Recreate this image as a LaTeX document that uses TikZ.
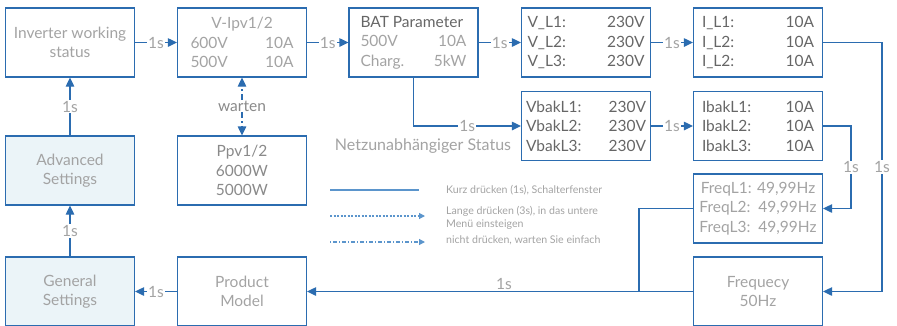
\documentclass[tikz,border=0pt]{standalone}
\usepackage{fontspec}
\setmainfont{Lato}
\usetikzlibrary{arrows.meta}
\definecolor{bl}{HTML}{2B6CB0}
\definecolor{bll}{HTML}{5B95CC}
\definecolor{lt}{HTML}{A3A3A3}
\definecolor{md}{HTML}{8A8A8A}
\definecolor{dk}{HTML}{666666}
\definecolor{fillb}{HTML}{EBF4F8}
\newcommand{\lrrow}[3]{\makebox[#1]{#2\hfill #3}}
\begin{document}
\begin{tikzpicture}[x=1pt,y=-1pt,
 box/.style={draw=bl,line width=1.2pt,minimum width=129pt,minimum height=69pt,inner sep=0pt,align=center,font=\fontsize{15.5}{19.5}\selectfont,text=lt},
 sbox/.style={box,fill=fillb},
 conn/.style={draw=bl,line width=1.2pt,-{Triangle[length=9pt,width=8.5pt]}},
 ln/.style={draw=bl,line width=1.2pt},
 lab/.style={fill=white,inner sep=1pt,text=lt,font=\fontsize{15.5}{18}\selectfont},
 leg/.style={text=lt,font=\fontsize{10.6}{13}\selectfont,anchor=west,align=left,inner sep=0pt},
 waitline/.style={dash pattern=on 6pt off 3pt on 1.5pt off 3pt},
 legtip/.style={-{Triangle[length=6pt,width=6pt]}}]
\useasboundingbox (0,0) rectangle (897,325);

% top row
\node[box] (inv) at (70,42.5) {Inverter working\\status};
\node[box] (vipv) at (242,42.5) {V-Ipv1/2\\\lrrow{103pt}{600V}{10A}\\\lrrow{103pt}{500V}{10A}};
\node[box] (bat) at (413.5,42.5) {\lrrow{106pt}{\color{dk}BAT Parameter}{}\\\lrrow{106pt}{500V}{10A}\\\lrrow{106pt}{Charg.}{5kW}};
\node[box,text=dk] (vl) at (586,42.5) {\lrrow{117pt}{V\_L1:}{230V}\\\lrrow{117pt}{V\_L2:}{230V}\\\lrrow{117pt}{V\_L3:}{230V}};
\node[box,text=dk] (il) at (758,42.5) {\lrrow{112pt}{I\_L1:}{10A}\\\lrrow{112pt}{I\_L2:}{10A}\\\lrrow{112pt}{I\_L2:}{10A}};

% second row
\node[box,text=dk] (vbak) at (586,126) {\lrrow{120pt}{VbakL1:}{230V}\\\lrrow{120pt}{VbakL2:}{230V}\\\lrrow{120pt}{VbakL3:}{230V}};
\node[box,text=dk] (ibak) at (758,126) {\lrrow{112pt}{IbakL1:}{10A}\\\lrrow{112pt}{IbakL2:}{10A}\\\lrrow{112pt}{IbakL3:}{10A}};
\node[box] (freq) at (758,208.5) {FreqL1: 49,99Hz\\FreqL2:\ \ 49,99Hz\\FreqL3:\ \ 49,99Hz};
\node[sbox] (adv) at (70,170.5) {Advanced\\Settings};
\node[box,text=md] (ppv) at (242,170.5) {Ppv1/2\\6000W\\5000W};

% bottom row
\node[sbox] (gen) at (70,291.5) {General\\Settings};
\node[box] (prod) at (242,291.5) {Product\\Model};
\node[box] (freq50) at (758,291.5) {Frequecy\\50Hz};

\node[text=lt,font=\fontsize{16}{18}\selectfont,inner sep=0pt] (netz) at (423,146) {Netzunabhängiger Status};

% connectors
\draw[conn] (inv.east) -- node[lab]{1s} (vipv.west);
\draw[conn] (vipv.east) -- node[lab]{1s} (bat.west);
\draw[conn] (bat.east) -- node[lab]{1s} (vl.west);
\draw[conn] (vl.east) -- node[lab]{1s} (il.west);
\draw[conn] (bat.south) |- node[lab,pos=0.75]{1s} (vbak.west);
\draw[conn] (vbak.east) -- node[lab]{1s} (ibak.west);
\coordinate (ilr) at (882,42.5);
\draw[conn] (il.east) -- (ilr) |- node[lab,pos=0.25]{1s} (freq50.east);
\coordinate (ibr) at (851,126);
\draw[conn] (ibak.east) -- (ibr) |- node[lab,pos=0.25]{1s} (freq.east);
\coordinate (j) at (639,291.5);
\draw[ln] (freq.west) -| (j);
\draw[conn] (freq50.west) -- node[above,inner sep=1pt,pos=0.49,text=lt,font=\fontsize{15.5}{18}\selectfont]{1s} (prod.east);
\draw[conn] (prod.west) -- node[lab]{1s} (gen.east);
\draw[conn] (gen.north) -- node[lab]{1s} (adv.south);
\draw[conn] (adv.north) -- node[lab]{1s} (inv.south);

\node[lab,text=md] (w) at (242,106) {warten};
\draw[conn,waitline] (w) -- (vipv.south);
\draw[conn,waitline] (w) -- (ppv.north);

% legend
\coordinate (l1a) at (330,190); \coordinate (l1b) at (419,190);
\coordinate (l2a) at (330,216); \coordinate (l2b) at (425,216);
\coordinate (l3a) at (330,242); \coordinate (l3b) at (425,242);
\draw[draw=bll,line width=1.2pt] (l1a) -- (l1b);
\draw[draw=bll,line width=1.2pt,dash pattern=on 2pt off 1.5pt,legtip] (l2a) -- (l2b);
\draw[draw=bll,line width=1.2pt,dash pattern=on 1pt off 2pt on 4pt off 2pt,legtip] (l3a) -- (l3b);
\node[leg] (t1) at (446,190) {Kurz drücken (1s), Schalterfenster};
\node[leg,anchor=north west] (t2) at (446,206) {Lange drücken (3s), in das untere\\Menü einsteigen};
\node[leg] (t3) at (446,240) {nicht drücken, warten Sie einfach};
\end{tikzpicture}
\end{document}
